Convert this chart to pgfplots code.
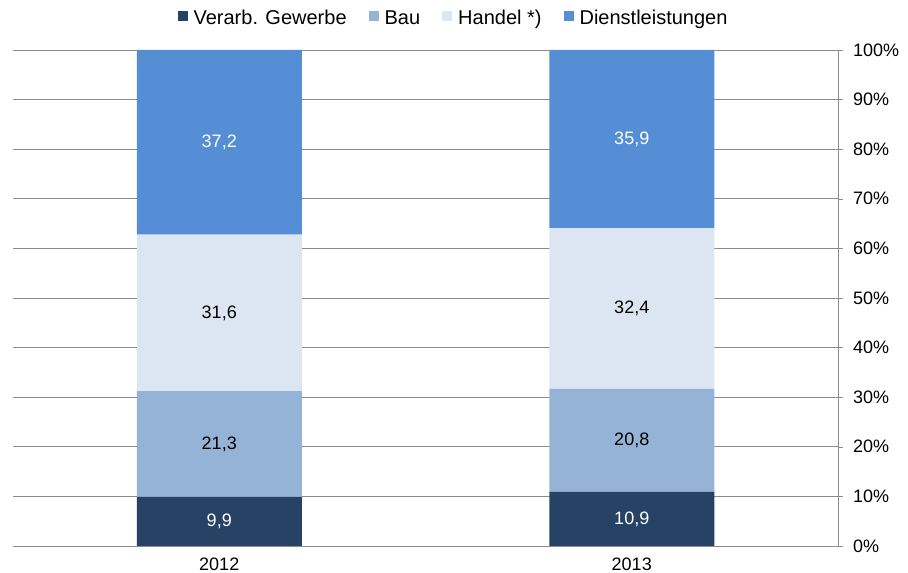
\documentclass[border=0pt]{standalone}
\usepackage{pgfplots}
\pgfplotsset{compat=1.18}
\usepackage{fontspec}
\setmainfont{Liberation Sans}
\definecolor{cVer}{HTML}{264264}
\definecolor{cBau}{HTML}{95B3D7}
\definecolor{cHan}{HTML}{DCE6F2}
\definecolor{cDie}{HTML}{558ED5}
\definecolor{cGrid}{HTML}{8C8C8C}
\begin{document}
\fontsize{18pt}{21pt}\selectfont
\begin{tikzpicture}
\useasboundingbox (-13pt,-27pt) rectangle (895pt,546pt);
\begin{axis}[
  at={(0,0)}, anchor=south west,
  scale only axis, width=825pt, height=496pt,
  ybar stacked, bar width=165pt,
  xmin=-0.5, xmax=1.5, ymin=0, ymax=100,
  axis x line*=bottom, axis y line*=right,
  axis line style={cGrid,-},
  xtick={0,1}, xticklabels={2012,2013},
  major x tick style={draw=none},
  extra x ticks={-0.5,0.5,1.5}, extra x tick labels={},
  extra x tick style={grid=none, major tick length=5pt, tick style={cGrid, draw=cGrid}, tick align=outside},
  ytick={0,10,...,100},
  yticklabel={\pgfmathprintnumber{\tick}\%},
  /pgf/number format/assume math mode=true,
  tick align=outside, major tick length=5pt,
  tick style={cGrid},
  ymajorgrids, grid style={cGrid, line width=0.6pt},
  ticklabel style={font=\fontsize{18pt}{21pt}\selectfont},
  yticklabel style={xshift=4pt},
  xticklabel style={yshift=-1pt},
  legend style={at={(0.534,1.0605)}, anchor=center, draw=none, fill=none,
    legend columns=-1, font=\fontsize{20pt}{23pt}\selectfont,
    nodes={text height=0.72em, text depth=0.2em},
    /tikz/every odd column/.append style={column sep=4pt},
    /tikz/every even column/.append style={column sep=20pt}},
  legend image code/.code={\fill[#1] (0pt,-1pt) rectangle (10pt,9pt);},
]
\addplot[fill=cVer, draw=none] coordinates {(0,9.9) (1,10.9)};
\addplot[fill=cBau, draw=none] coordinates {(0,21.3) (1,20.8)};
\addplot[fill=cHan, draw=none] coordinates {(0,31.6) (1,32.4)};
\addplot[fill=cDie, draw=none] coordinates {(0,37.2) (1,35.9)};
\legend{Verarb. Gewerbe, Bau, Handel *), Dienstleistungen}
\end{axis}
\begin{axis}[
  at={(0,0)}, anchor=south west,
  scale only axis, width=825pt, height=496pt,
  xmin=-0.5, xmax=1.5, ymin=0, ymax=100, hide axis,
  nodes near coords, point meta=explicit,
  /pgf/number format/use comma, /pgf/number format/fixed,
  /pgf/number format/fixed zerofill, /pgf/number format/precision=1,
  /pgf/number format/assume math mode=true,
  nodes near coords style={anchor=center, font=\fontsize{18pt}{21pt}\selectfont},
]
\addplot[draw=none, mark=none, nodes near coords style={text=white}] coordinates {(0,4.95) [9.9] (1,5.45) [10.9]};
\addplot[draw=none, mark=none, nodes near coords style={text=black}] coordinates {(0,20.55) [21.3] (1,21.3) [20.8]};
\addplot[draw=none, mark=none, nodes near coords style={text=black}] coordinates {(0,47.0) [31.6] (1,47.9) [32.4]};
\addplot[draw=none, mark=none, nodes near coords style={text=white}] coordinates {(0,81.4) [37.2] (1,82.05) [35.9]};
\end{axis}
\end{tikzpicture}
\end{document}
